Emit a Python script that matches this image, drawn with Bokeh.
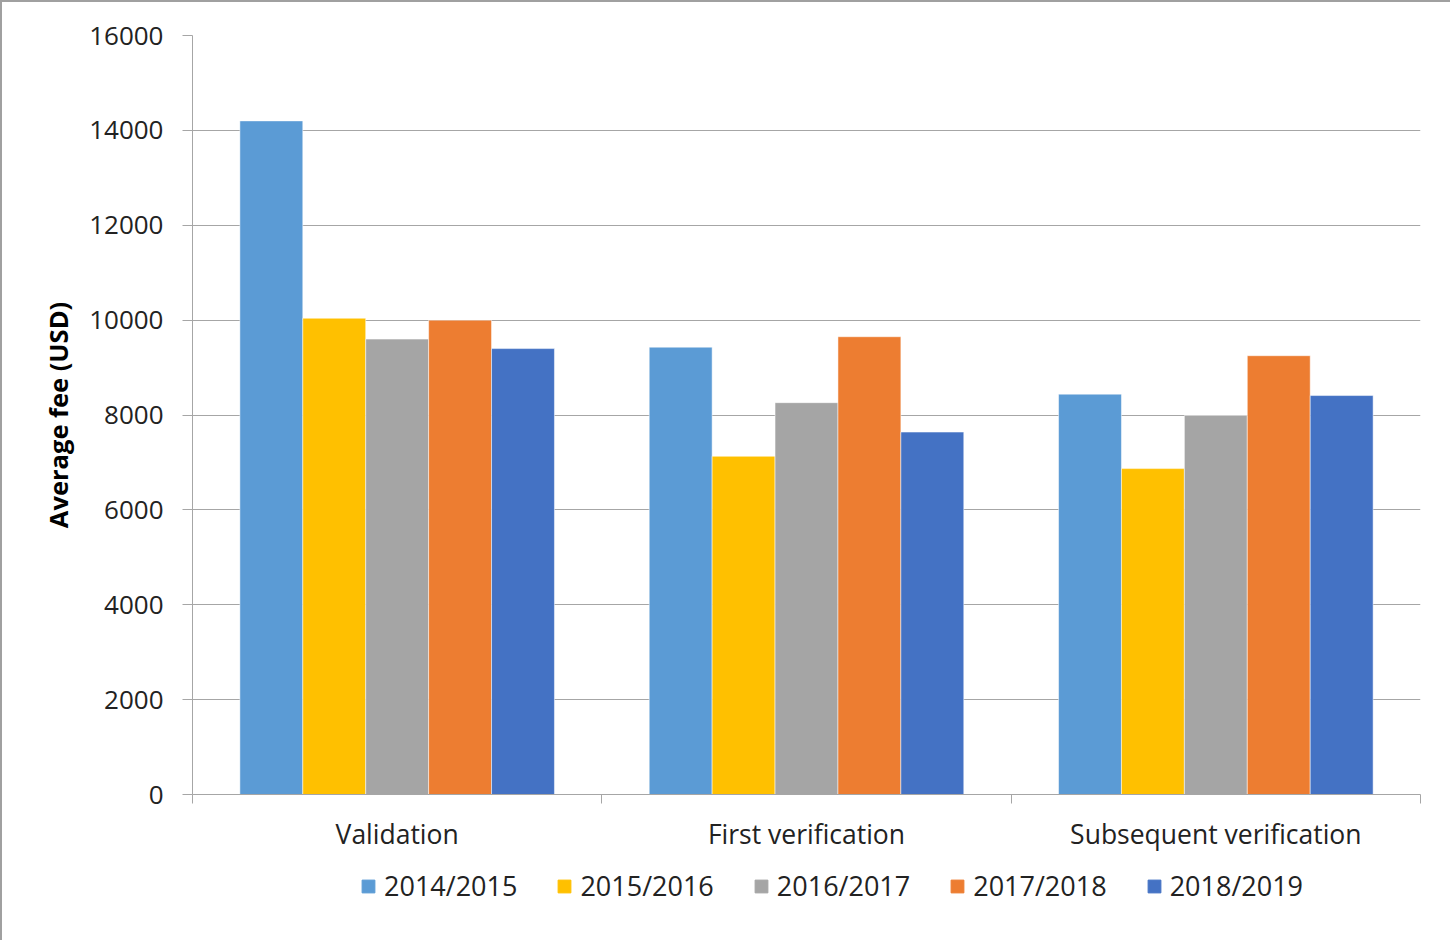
from bokeh.plotting import figure
from bokeh.models import ColumnDataSource, FixedTicker, Legend, LegendItem
from bokeh.layouts import column
from bokeh.transform import dodge
from bokeh.embed import file_html
from bokeh.resources import INLINE
import numpy as np

categories = ["Validation", "First verification", "Subsequent verification"]
years = ["2014/2015", "2015/2016", "2016/2017", "2017/2018", "2018/2019"]
fee_2014_2015 = [14200, 9430, 8440]
fee_2015_2016 = [10040, 7130, 6870]
fee_2016_2017 = [9600, 8260, 7990]
fee_2017_2018 = [10000, 9650, 9250]
fee_2018_2019 = [9400, 7640, 8410]
series = [fee_2014_2015, fee_2015_2016, fee_2016_2017, fee_2017_2018, fee_2018_2019]
colors = ["#5B9BD5", "#FFC000", "#A5A5A5", "#ED7D31", "#4472C4"]
y_ticks = [0, 2000, 4000, 6000, 8000, 10000, 12000, 14000, 16000]

n = len(categories)
centers = np.arange(n) + 0.5
data = {"x": centers}
for yr, vals in zip(years, series):
    data[yr] = vals
source = ColumnDataSource(data)

W = 1448
H1 = 855
p = figure(width=W, height=H1, output_backend="svg", toolbar_location=None,
           x_range=(0, n), y_range=(0, 16000),
           min_border_left=190, min_border_right=W - 1418, min_border_top=33,
           min_border_bottom=H1 - 792)

bw = 0.1537
renderers = []
for i, (yr, c) in enumerate(zip(years, colors)):
    off = (i - 2) * bw
    r = p.vbar(x=dodge("x", off), top=yr, width=bw, source=source, fill_color=c,
               line_color="white", line_alpha=0.5, line_width=1)
    renderers.append((yr, r))

p.outline_line_color = None
p.background_fill_color = "white"
p.border_fill_color = "white"

# y axis
p.yaxis.ticker = FixedTicker(ticks=y_ticks)
p.yaxis.axis_line_color = "#A6A6A6"
p.yaxis.major_tick_line_color = "#A6A6A6"
p.yaxis.major_tick_out = 10
p.yaxis.major_tick_in = 0
p.yaxis.minor_tick_line_color = None
p.yaxis.major_label_text_font = "Open Sans"
p.yaxis.major_label_text_font_size = "26px"
p.yaxis.major_label_text_color = "#222222"
p.yaxis.major_label_standoff = 19
p.yaxis.axis_label = "Average fee (USD)"
p.yaxis.axis_label_text_font = "Open Sans"
p.yaxis.axis_label_text_font_style = "bold"
p.yaxis.axis_label_text_font_size = "25.5px"
p.yaxis.axis_label_text_color = "black"
p.yaxis.axis_label_standoff = 11

p.ygrid.ticker = FixedTicker(ticks=y_ticks)
p.ygrid.grid_line_color = "#A6A6A6"
p.ygrid.grid_line_width = 1.2
p.xgrid.grid_line_color = None

# x axis: labels at centers, tick marks at boundaries
p.xaxis.ticker = FixedTicker(ticks=list(centers), minor_ticks=list(np.arange(n + 1)))
p.xaxis.major_label_overrides = {float(c): cat for c, cat in zip(centers, categories)}
p.xaxis.major_tick_line_color = None
p.xaxis.major_tick_out = 0
p.xaxis.minor_tick_line_color = "#A6A6A6"
p.xaxis.minor_tick_out = 9
p.xaxis.minor_tick_in = 0
p.xaxis.axis_line_color = "#A6A6A6"
p.xaxis.major_label_text_font = "Open Sans"
p.xaxis.major_label_text_font_size = "26.5px"
p.xaxis.major_label_text_color = "#222222"
p.xaxis.major_label_standoff = 12

# legend in its own strip below the chart (proxy glyphs, not visible in the strip)
H2 = 83
pl = figure(width=W, height=H2, output_backend="svg", toolbar_location=None,
            x_axis_type=None, y_axis_type=None, x_range=(0, 1), y_range=(0, 1),
            min_border=0)
pl.outline_line_color = None
pl.xgrid.grid_line_color = None
pl.ygrid.grid_line_color = None
leg_renderers = []
for yr, c in zip(years, colors):
    rr = pl.vbar(x=[np.nan], top=[np.nan], width=1, fill_color=c, line_color=c)
    leg_renderers.append((yr, rr))

legend = Legend(items=[LegendItem(label=yr, renderers=[r]) for yr, r in leg_renderers],
                orientation="horizontal", location=(168, 36))
legend.label_text_font = "Open Sans"
legend.label_text_font_size = "27px"
legend.label_text_color = "#222222"
legend.glyph_width = 16
legend.glyph_height = 16
legend.label_standoff = 8
legend.spacing = 39
legend.border_line_color = None
legend.background_fill_alpha = 0
legend.margin = 0
legend.padding = 4
pl.add_layout(legend, "center")

layout = column(p, pl, spacing=0,
                styles={"border-top": "2px solid #A0A0A0", "border-left": "2px solid #A0A0A0"})

open("out.html", "w").write(file_html(layout, INLINE))
